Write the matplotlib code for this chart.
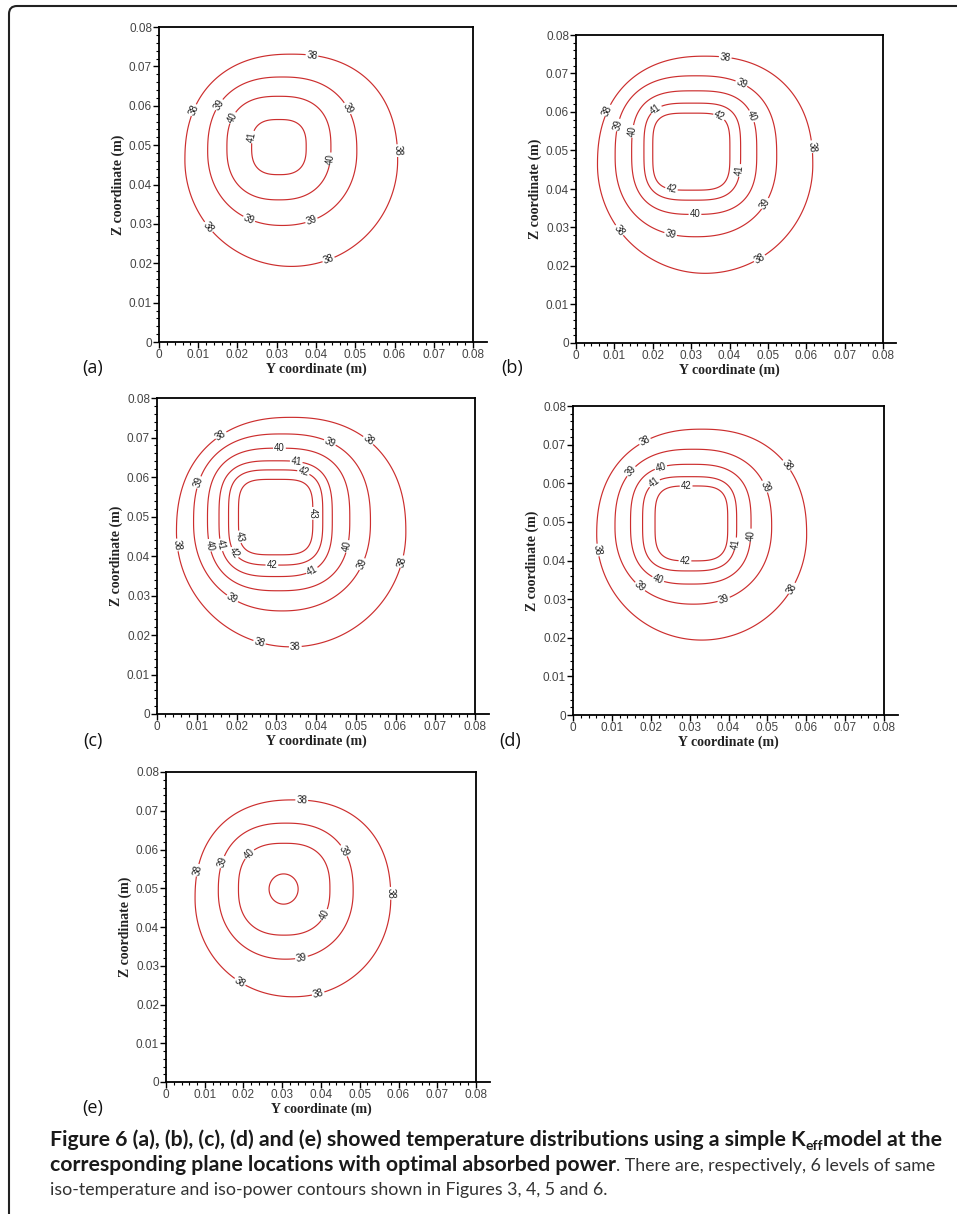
import numpy as np
import matplotlib
matplotlib.use('Agg')
import matplotlib.pyplot as plt
from matplotlib import font_manager
from matplotlib.ticker import MultipleLocator, FuncFormatter
from matplotlib.path import Path
from matplotlib.patches import PathPatch

# contour extents (m): left/right in Y, bottom/top in Z
# shape = squareness of the upper half, shape_lo = of the lower half
a_levels = [38, 39, 40, 41]
a_y0 = [0.0066, 0.0124, 0.0173, 0.0236]
a_y1 = [0.0608, 0.0504, 0.0438, 0.0375]
a_z0 = [0.0192, 0.0296, 0.0361, 0.0425]
a_z1 = [0.0731, 0.0673, 0.0624, 0.0565]
a_shape = [2.3, 2.4, 2.6, 2.8]
a_shape_lo = [2.0, 2.15, 2.4, 2.7]
a_labels = [(38, 0.0389, 0.0722), (38, 0.0081, 0.0592), (38, 0.0608, 0.0486), (38, 0.0121, 0.0288),
            (38, 0.0431, 0.0212), (39, 0.0157, 0.0600), (39, 0.0478, 0.0592), (39, 0.0229, 0.0311),
            (39, 0.0389, 0.0307), (40, 0.0194, 0.0566), (40, 0.0438, 0.0465), (41, 0.0242, 0.0520)]

b_levels = [38, 39, 40, 41, 42]
b_y0 = [0.0056, 0.0102, 0.0145, 0.0177, 0.0200]
b_y1 = [0.0617, 0.0523, 0.0471, 0.0429, 0.0401]
b_z0 = [0.0181, 0.0276, 0.0334, 0.0371, 0.0397]
b_z1 = [0.0745, 0.0694, 0.0655, 0.0623, 0.0597]
b_shape = [2.3, 2.6, 3.0, 3.5, 4.0]
b_shape_lo = [2.0, 2.3, 2.8, 3.3, 3.8]
b_labels = [(38, 0.0388, 0.0735), (38, 0.0076, 0.0607), (38, 0.0617, 0.0510), (38, 0.0108, 0.0289),
            (38, 0.0478, 0.0220), (39, 0.0426, 0.0663), (39, 0.0119, 0.0564), (39, 0.0490, 0.0364),
            (39, 0.0247, 0.0285), (40, 0.0154, 0.0549), (40, 0.0446, 0.0584), (40, 0.0310, 0.0330),
            (41, 0.0210, 0.0605), (41, 0.0429, 0.0448), (42, 0.0371, 0.0584), (42, 0.0249, 0.0402)]

c_levels = [38, 39, 40, 41, 42, 43]
c_y0 = [0.0049, 0.0092, 0.0127, 0.0156, 0.0180, 0.0205]
c_y1 = [0.0626, 0.0537, 0.0485, 0.0441, 0.0417, 0.0392]
c_z0 = [0.0170, 0.0261, 0.0312, 0.0348, 0.0377, 0.0403]
c_z1 = [0.0751, 0.0709, 0.0673, 0.0641, 0.0618, 0.0594]
c_shape = [2.3, 2.5, 2.8, 3.2, 3.6, 4.0]
c_shape_lo = [2.0, 2.2, 2.6, 3.0, 3.4, 3.8]
c_labels = [(38, 0.0152, 0.0719), (38, 0.0527, 0.0687), (38, 0.0051, 0.0428), (38, 0.0615, 0.0386),
            (38, 0.0256, 0.0175), (38, 0.0348, 0.0169), (39, 0.0106, 0.0586), (39, 0.0430, 0.0677),
            (39, 0.0512, 0.0381), (39, 0.0188, 0.0290), (40, 0.0308, 0.0670), (40, 0.0136, 0.0428),
            (40, 0.0476, 0.0425), (41, 0.0350, 0.0636), (41, 0.0161, 0.0428), (41, 0.0390, 0.0363),
            (42, 0.0368, 0.0611), (42, 0.0194, 0.0408), (42, 0.0289, 0.0377), (43, 0.0394, 0.0508),
            (43, 0.0211, 0.0449)]

d_levels = [38, 39, 40, 41, 42]
d_y0 = [0.0061, 0.0108, 0.0148, 0.0179, 0.0211]
d_y1 = [0.0601, 0.0511, 0.0458, 0.0421, 0.0398]
d_z0 = [0.0194, 0.0287, 0.0339, 0.0373, 0.0399]
d_z1 = [0.0740, 0.0688, 0.0649, 0.0617, 0.0593]
d_shape = [2.3, 2.5, 2.9, 3.4, 3.8]
d_shape_lo = [2.0, 2.2, 2.7, 3.2, 3.6]
d_labels = [(38, 0.0181, 0.0716), (38, 0.0548, 0.0645), (38, 0.0063, 0.0427), (38, 0.0563, 0.0328),
            (39, 0.0154, 0.0627), (39, 0.0488, 0.0589), (39, 0.0172, 0.0332), (39, 0.0388, 0.0298),
            (40, 0.0228, 0.0634), (40, 0.0458, 0.0466), (40, 0.0220, 0.0354), (41, 0.0209, 0.0601),
            (41, 0.0419, 0.0443), (42, 0.0291, 0.0593), (42, 0.0288, 0.0400)]

e_levels = [38, 39, 40, 41]
e_y0 = [0.0075, 0.0135, 0.0187, 0.0266]
e_y1 = [0.0580, 0.0483, 0.0423, 0.0341]
e_z0 = [0.0220, 0.0317, 0.0379, 0.0459]
e_z1 = [0.0728, 0.0668, 0.0616, 0.0537]
e_shape = [2.3, 2.4, 2.6, 2.0]
e_shape_lo = [2.05, 2.15, 2.4, 2.0]
e_labels = [(38, 0.0350, 0.0723), (38, 0.0079, 0.0547), (38, 0.0580, 0.0487), (38, 0.0189, 0.0255),
            (38, 0.0393, 0.0227), (39, 0.0150, 0.0566), (39, 0.0455, 0.0594), (39, 0.0350, 0.0319),
            (40, 0.0217, 0.0586), (40, 0.0410, 0.0431)]

panel_names = ['(a)', '(b)', '(c)', '(d)', '(e)']

installed = {f.name for f in font_manager.fontManager.ttflist}


def pick(*names):
    for n in names:
        if n in installed:
            return n
    return 'DejaVu Sans'


SANS = pick('Liberation Sans', 'Arial')
SERIF = pick('Liberation Serif', 'DejaVu Serif')
CAP = pick('Lato', 'Open Sans')
LBL = pick('Open Sans', 'Noto Sans')
plt.rcParams['font.family'] = [SANS, 'DejaVu Sans']

W, H = 957, 1214
fig = plt.figure(figsize=(W / 100, H / 100), dpi=100)
fig.patch.set_facecolor('white')
RED = '#cc2e2e'

grid = np.linspace(0, 0.08, 401)
GY, GZ = np.meshgrid(grid, grid)


def rect(x0, x1, y0, y1):
    return [x0 / W, 1 - y1 / H, (x1 - x0) / W, (y1 - y0) / H]


def panel(box, levels, y0, y1, z0, z1, shape, shape_lo, labels):
    ax = fig.add_axes(rect(*box))
    for lev, a, b, c, d, p_hi, p_lo in zip(levels, y0, y1, z0, z1, shape, shape_lo):
        cy, cz = (a + b) / 2, (c + d) / 2
        ry, rz = (b - a) / 2, (d - c) / 2
        p = np.where(GZ >= cz, p_hi, p_lo)
        dist = (np.abs((GY - cy) / ry) ** p + np.abs((GZ - cz) / rz) ** p) ** (1 / p)
        cs = ax.contour(GY, GZ, dist, levels=[1.0], colors=RED, linewidths=0.85)
        pos = [(y, z) for (l, y, z) in labels if l == lev]
        if pos:
            ax.clabel(cs, fmt={1.0: str(lev)}, manual=pos, inline=True,
                      inline_spacing=1, fontsize=7, colors='#222222')
    ax.set_xlim(0, 0.08)
    ax.set_ylim(0, 0.08)
    fmt = FuncFormatter(lambda v, _: '0' if abs(v) < 1e-9 else '%.2f' % v)
    for axis in (ax.xaxis, ax.yaxis):
        axis.set_major_locator(MultipleLocator(0.01))
        axis.set_minor_locator(MultipleLocator(0.002))
        axis.set_major_formatter(fmt)
    ax.tick_params(which='major', direction='out', length=4, width=1, pad=1,
                   labelsize=8.5, labelcolor='#444444', color='black')
    ax.tick_params(which='minor', direction='out', length=2.2, width=0.8, color='black')
    for s in ax.spines.values():
        s.set_linewidth(1.3)
        s.set_color('black')
    # the bottom axis line runs a little past the frame, as in the original
    ax.spines['bottom'].set_bounds(0, 0.0835)
    ax.set_xlabel('Y coordinate (m)', fontfamily=SERIF, fontsize=10, fontweight='bold',
                  labelpad=1, color='#222222')
    ax.set_ylabel('Z coordinate (m)', fontfamily=SERIF, fontsize=10, fontweight='bold',
                  labelpad=3, color='#222222')
    return ax


panel((159, 473, 27, 342), a_levels, a_y0, a_y1, a_z0, a_z1, a_shape, a_shape_lo, a_labels)
panel((576, 883, 35, 343), b_levels, b_y0, b_y1, b_z0, b_z1, b_shape, b_shape_lo, b_labels)
panel((157, 475, 398, 714), c_levels, c_y0, c_y1, c_z0, c_z1, c_shape, c_shape_lo, c_labels)
panel((573, 884, 406, 715), d_levels, d_y0, d_y1, d_z0, d_z1, d_shape, d_shape_lo, d_labels)
panel((166, 476, 772, 1082), e_levels, e_y0, e_y1, e_z0, e_z1, e_shape, e_shape_lo, e_labels)

# panel letters
for name, (px, py) in zip(panel_names, [(93, 368), (512, 368), (93, 741), (510, 741), (93, 1108)]):
    fig.text(px / W, 1 - py / H, name, fontfamily=LBL, fontsize=13, color='#111111',
             ha='center', va='center')

# frame: top and left edge with a rounded corner
verts = [(W, 6), (17, 6), (9, 6), (9, 14), (9, H)]
codes = [Path.MOVETO, Path.LINETO, Path.CURVE3, Path.CURVE3, Path.LINETO]
verts = [(x / W, 1 - y / H) for x, y in verts]
fig.add_artist(PathPatch(Path(verts, codes), transform=fig.transFigure, fill=False,
                         lw=1.5, edgecolor='#222222'))

# caption, written piece by piece
renderer = fig.canvas.get_renderer()


def write(parts, x_px, y_px):
    x = x_px
    for txt, kw in parts:
        dy = kw.pop('dy', 0)
        t = fig.text(x / W, 1 - (y_px + dy) / H, txt, va='baseline', fontfamily=CAP, **kw)
        bb = t.get_window_extent(renderer)
        x = bb.x1


B = dict(fontweight='bold', fontsize=15.3, color='#1a1a1a')
R = dict(fontweight='normal', fontsize=12.8, color='#333333')
write([('Figure 6 (a), (b), (c), (d) and (e) showed temperature distributions using a simple K', dict(B)),
       ('eff', dict(B, fontsize=10, dy=4)),
       ('model at the', dict(B))], 50, 1146)
write([('corresponding plane locations with optimal absorbed power', dict(B)),
       ('. There are, respectively, 6 levels of same', dict(R))], 50, 1171)
write([('iso-temperature and iso-power contours shown in Figures 3, 4, 5 and 6.', dict(R))], 50, 1195)

fig.savefig('out.png', dpi=100)
